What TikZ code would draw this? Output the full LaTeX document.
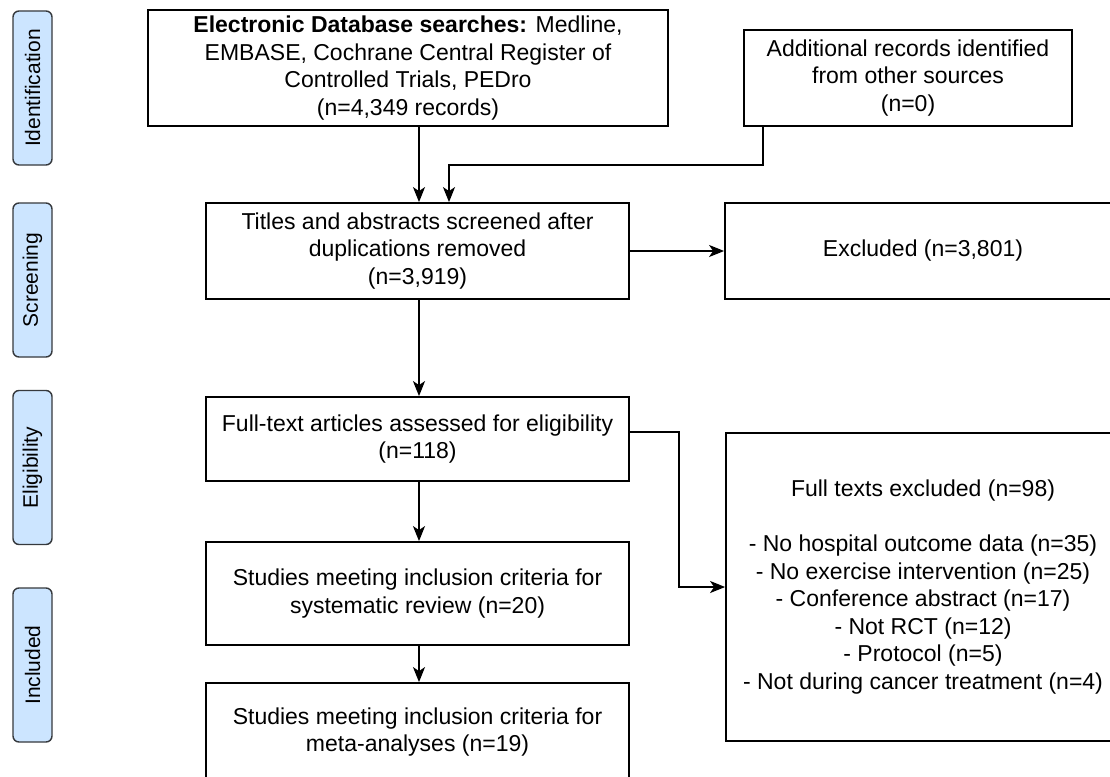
\documentclass[tikz,border=0pt]{standalone}
\usepackage{fontspec}
\setmainfont{Liberation Sans}
\usetikzlibrary{arrows.meta,calc}
\definecolor{phasefill}{HTML}{CCE5FF}
\definecolor{phasedraw}{HTML}{36393D}
\begin{document}
\begin{tikzpicture}[x=1pt,y=-1pt,
  box/.style={draw=black,line width=1.8pt,fill=white,rectangle,align=center,inner sep=0pt,
    font=\fontsize{23}{27.5}\selectfont},
  phase/.style={draw=phasedraw,line width=1.4pt,fill=phasefill,rounded corners=6pt,
    minimum width=154pt,minimum height=39pt,inner sep=0pt,rotate=90,
    font=\fontsize{21}{25}\selectfont},
  arr/.style={line width=1.8pt,-{Stealth[length=15pt,width=12pt,inset=4pt]}}]
\useasboundingbox (0,0) rectangle (1110,776);
\clip (0,0) rectangle (1110,776);
\fill[white] (0,0) rectangle (1110,776);
% phase labels
\node[phase] (pid) at (32.5,88) {Identification};
\node[phase] (psc) at (32.5,280) {Screening};
\node[phase] (pel) at (32.5,467.5) {Eligibility};
\node[phase] (pin) at (32.5,665) {Included};
% boxes
\node[box,minimum width=520pt,minimum height=116pt] (db) at (408,68)
  {\textbf{Electronic Database searches:} Medline,\\EMBASE, Cochrane Central Register of\\Controlled Trials, PEDro\\(n=4,349 records)};
\node[box,minimum width=328pt,minimum height=96pt] (add) at (908,78)
  {Additional records identified\\from other sources\\(n=0)};
\node[box,minimum width=423pt,minimum height=96pt] (screen) at (417.5,251)
  {Titles and abstracts screened after\\duplications removed\\(n=3,919)};
\node[box,minimum width=396pt,minimum height=96pt] (excl) at (923,251)
  {Excluded (n=3,801)};
\node[box,minimum width=423pt,minimum height=84pt] (elig) at (417.5,439)
  {Full-text articles assessed for eligibility\\(n=118)};
\node[box,minimum width=394pt,minimum height=308pt] (full) at (923,587)
  {Full texts excluded (n=98)\\[27.5pt]- No hospital outcome data (n=35)\\- No exercise intervention (n=25)\\- Conference abstract (n=17)\\- Not RCT (n=12)\\- Protocol (n=5)\\- Not during cancer treatment (n=4)};
\node[box,minimum width=423pt,minimum height=103pt] (sr) at (417.5,593.5)
  {Studies meeting inclusion criteria for\\systematic review (n=20)};
\node[box,minimum width=423pt,minimum height=98pt] (ma) at (417.5,732)
  {Studies meeting inclusion criteria for\\meta-analyses (n=19)};
% connectors
\coordinate (s1) at ([xshift=1.5pt]screen.north);
\coordinate (s2) at ([xshift=31.5pt]screen.north);
\coordinate (a1) at ([xshift=19.5pt]add.south west);
\draw[arr] (db.south -| s1) -- (s1);
\draw[arr] (a1) -- ++(0,38) -| (s2);
\draw[arr] (screen.east) -- (screen.east -| excl.west);
\draw[arr] (screen.south -| s1) -- (elig.north -| s1);
\draw[arr] (elig.east |- full.north) -- ++(49,0) |- (full.west);
\draw[arr] (elig.south -| s1) -- (sr.north -| s1);
\draw[arr] (sr.south -| s1) -- (ma.north -| s1);
\end{tikzpicture}
\end{document}
